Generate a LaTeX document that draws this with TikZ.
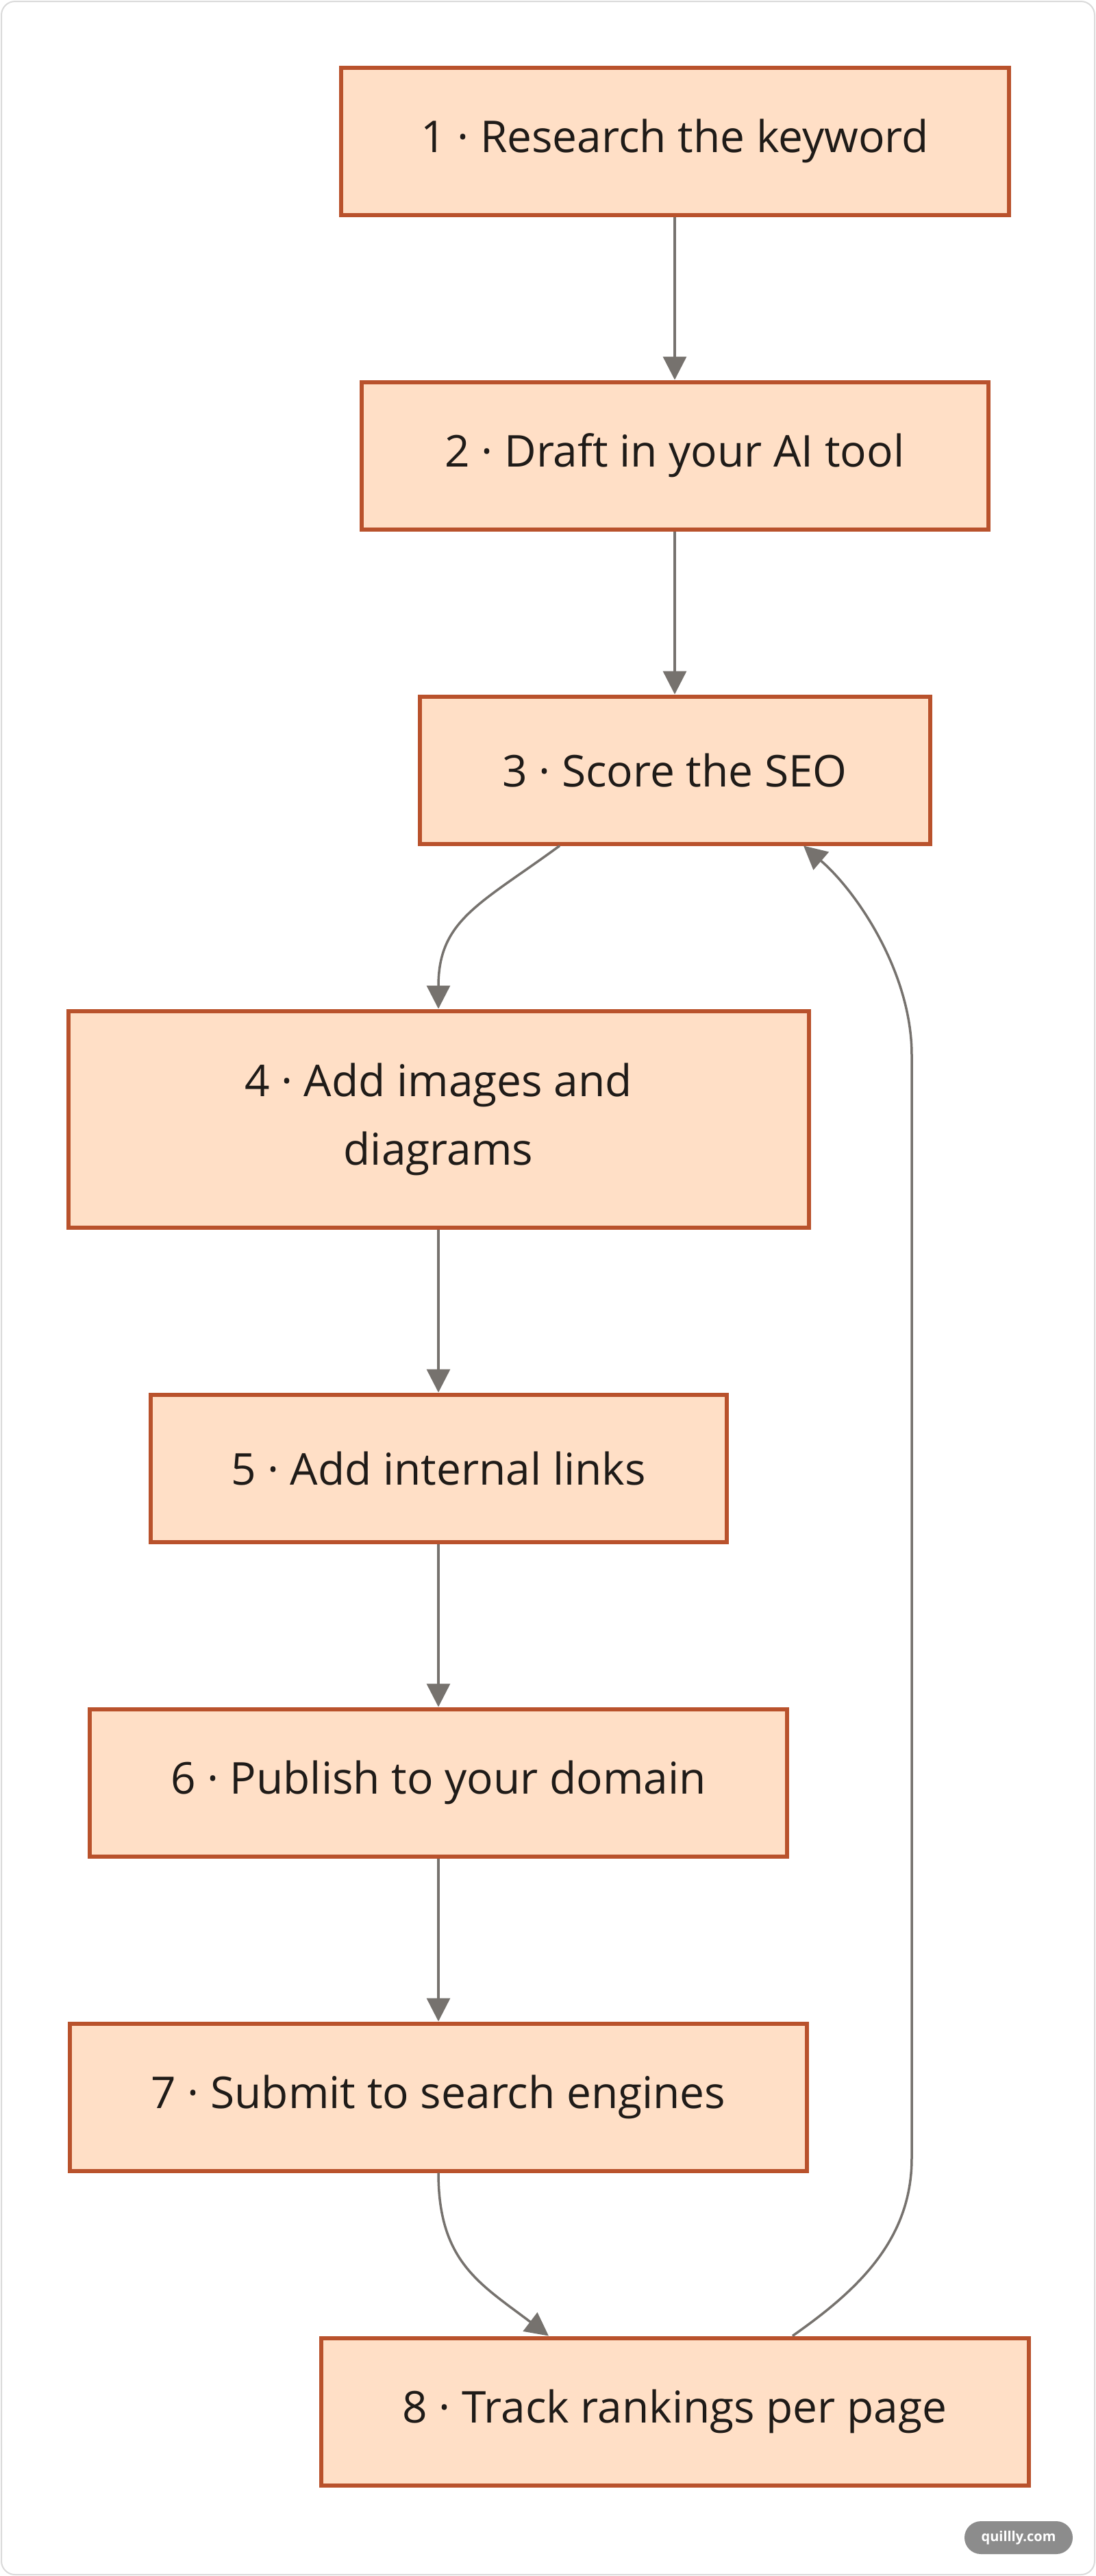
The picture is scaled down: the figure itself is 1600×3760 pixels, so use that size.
\documentclass[tikz,border=0pt]{standalone}
\usepackage{fontspec}
\setmainfont{Open Sans}
\usetikzlibrary{positioning, arrows.meta, calc}
\definecolor{flowFill}{HTML}{FFDFC6}
\definecolor{flowEdge}{HTML}{B9522C}
\definecolor{flowLink}{HTML}{76726E}
\definecolor{flowText}{HTML}{1F1B18}
\definecolor{flowFrame}{HTML}{DADADA}
\definecolor{flowBadge}{HTML}{8C8C8C}
\tikzset{
    flowBoxBase/.style={
        rectangle,
        draw=flowEdge,
        fill=flowFill,
        line width=3pt,
        minimum height=107.5pt,
        text=flowText,
        font=\fontsize{32}{50}\selectfont,
        align=center,
        inner sep=0pt
    },
    % Badge in the corner
    flowBadgeBox/.style={
        rectangle,
        rounded corners=12pt,
        fill=flowBadge,
        minimum width=79pt,
        minimum height=24pt,
        text=white,
        font=\fontsize{10}{12}\selectfont\bfseries,
        inner sep=0pt
    },
    % Arrows
    flowArrowBase/.style={-{Triangle[length=17pt, width=17pt]}, line width=1.75pt, draw=flowLink}
}

\begin{document}
\begin{tikzpicture}[x=0.5pt, y=-0.5pt, node distance=119pt]
    \useasboundingbox (0,0) rectangle (1600,3760);
    \draw[flowFrame, line width=1pt, fill=white, rounded corners=10pt] (2,2) rectangle (1598,3758);

    \node[flowBoxBase, minimum width=487.5pt] (research) at (985,206) {1 · Research the keyword};
    \node[flowBoxBase, minimum width=457.5pt, below=of research] (draft) {2 · Draft in your AI tool};
    \node[flowBoxBase, minimum width=372.5pt, below=of draft] (score) {3 · Score the SEO};
    \node[flowBoxBase, minimum width=540.5pt, minimum height=158pt, below=of score, xshift=-172.5pt] (images) {4 · Add images and\\diagrams};
    \node[flowBoxBase, minimum width=420.5pt, below=of images] (links) {5 · Add internal links};
    \node[flowBoxBase, minimum width=509pt, below=of links] (publish) {6 · Publish to your domain};
    \node[flowBoxBase, minimum width=538pt, below=of publish] (submit) {7 · Submit to search engines};
    \node[flowBoxBase, minimum width=516.5pt, below=of submit, xshift=172.5pt] (track) {8 · Track rankings per page};

    \node[flowBadgeBox] (badge) at (1487,3704) {quillly.com};

    \coordinate (loopLow) at (1331,3150);
    \coordinate (loopHigh) at (1331,1540);

    \draw[flowArrowBase] (research) -- (draft);
    \draw[flowArrowBase] (draft) -- (score);
    \draw[flowArrowBase] ([xshift=-84pt]score.south) .. controls +(-116,85) and +(0,-130) .. (images.north);
    \draw[flowArrowBase] (images) -- (links);
    \draw[flowArrowBase] (links) -- (publish);
    \draw[flowArrowBase] (publish) -- (submit);
    \draw[flowArrowBase] (submit.south) .. controls +(0,130) and +(-100,-76) .. ([xshift=-92pt]track.north);
    \draw[flowArrowBase] ([xshift=86pt]track.north) .. controls +(94,-66) and +(0,120) .. (loopLow)
        -- (loopHigh) .. controls +(0,-120) and +(78,67) .. ([xshift=94pt]score.south);
\end{tikzpicture}
\end{document}
